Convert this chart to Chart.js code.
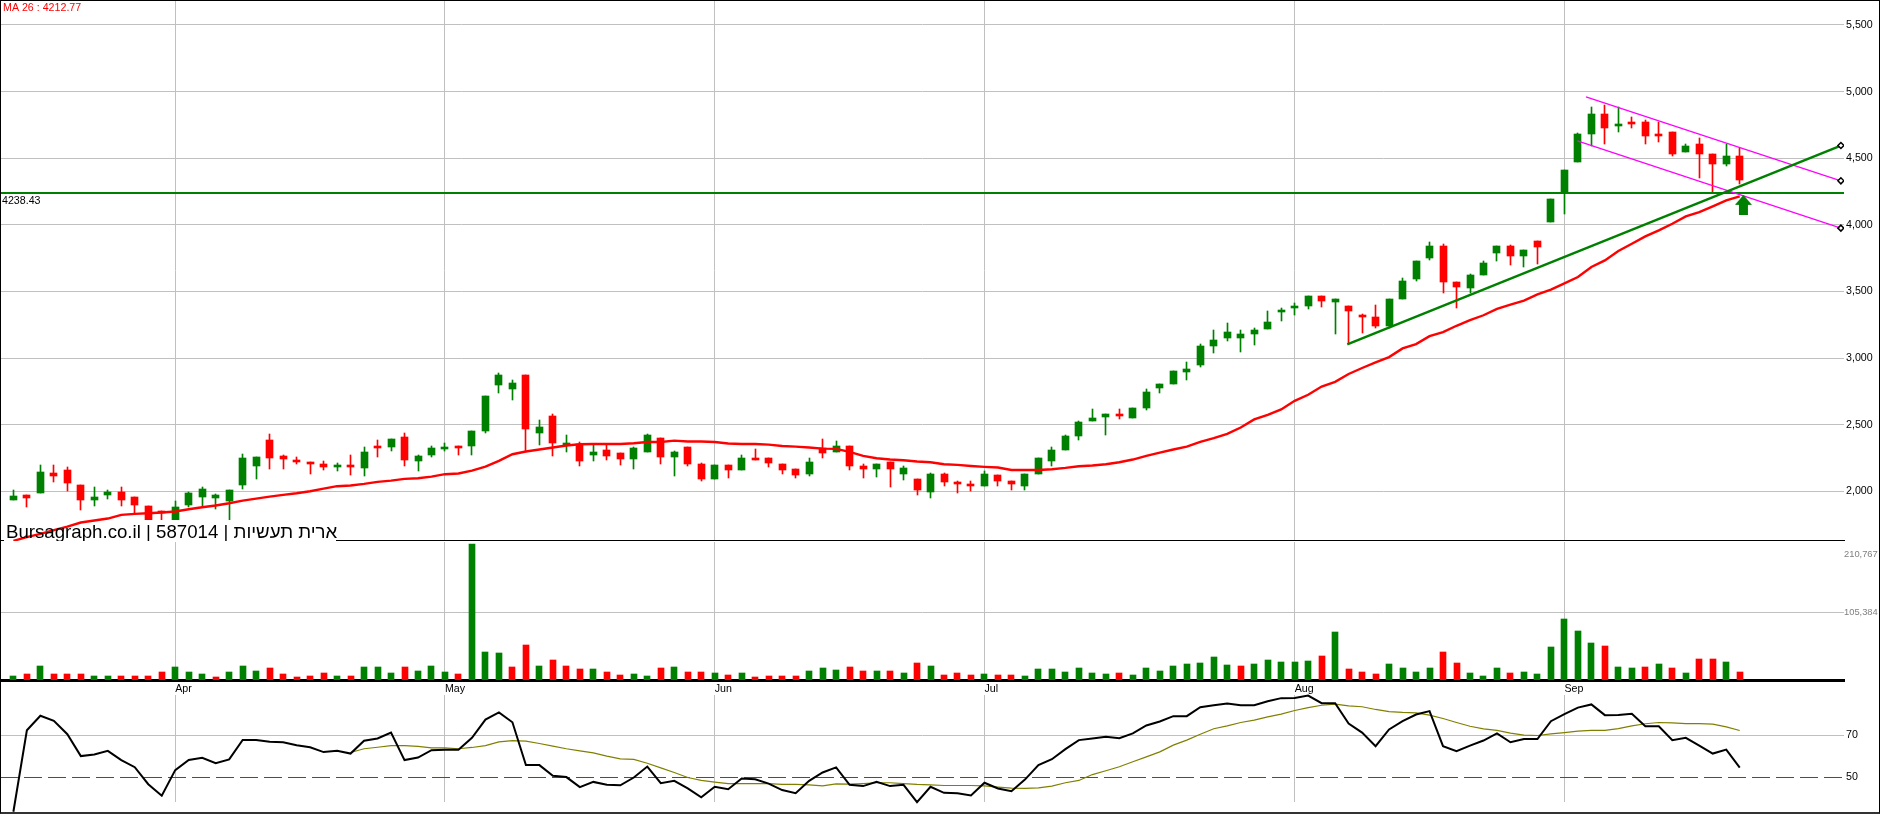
<!DOCTYPE html>
<html>
<head>
<meta charset="utf-8">
<title>Bursagraph 587014</title>
<script src="https://cdn.jsdelivr.net/npm/chart.js@4"></script>
<style>
html, body { margin: 0; padding: 0; background: #fff; overflow: hidden; }
#page { position: relative; width: 1880px; height: 814px; background: #fff; overflow: hidden; }
canvas { position: absolute; left: 0; display: block; }
#frame { position: absolute; left: 0; top: 0; width: 1878px; height: 811px; border: 1px solid #000; border-bottom: 2px solid #333; pointer-events: none; }
</style>
</head>
<body>
<div id="page">
    <canvas id="priceChart" width="1880" height="541" style="top:0"></canvas>
    <canvas id="volumeChart" width="1880" height="142" style="top:541px"></canvas>
    <canvas id="rsiChart" width="1880" height="132" style="top:682px"></canvas>
    <div id="frame"></div>
</div>
<script>
// one entry per trading day
const opens = [1935,1975,1988,2138,2160,2048,1935,1973,1995,1958,1890,1850,1773,1898,1958,1950,1928,2048,2190,2385,2265,2235,2220,2205,2183,2198,2175,2340,2333,2408,2228,2273,2328,2340,2340,2453,2798,2768,2873,2438,2565,2348,2355,2273,2310,2288,2243,2295,2400,2258,2333,2205,2093,2198,2160,2250,2250,2205,2168,2130,2325,2295,2340,2190,2168,2220,2130,2093,1995,2130,2070,2055,2040,2123,2078,2040,2130,2228,2310,2415,2528,2558,2580,2550,2625,2775,2805,2895,2945,3087,3147,3154,3184,3219,3346,3386,3391,3466,3421,3391,3324,3309,3242,3443,3593,3749,3839,3570,3525,3623,3787,3839,3764,3876,4018,4235,4468,4685,4835,4750,4775,4775,4685,4700,4550,4603,4528,4460,4520];
const highs = [2010,1975,2198,2198,2183,2048,2033,2010,2033,1958,1890,1850,1928,1995,2033,1980,2010,2280,2258,2430,2273,2258,2220,2228,2213,2273,2333,2385,2393,2438,2273,2340,2363,2340,2453,2715,2888,2835,2873,2535,2580,2423,2370,2348,2348,2288,2333,2430,2400,2303,2333,2213,2198,2198,2273,2318,2250,2205,2168,2250,2393,2378,2340,2205,2205,2220,2190,2093,2138,2138,2078,2078,2153,2123,2078,2130,2250,2333,2423,2528,2618,2580,2618,2625,2768,2805,2903,2970,3102,3214,3266,3214,3222,3354,3376,3413,3466,3466,3443,3391,3331,3398,3443,3600,3727,3869,3854,3570,3630,3727,3839,3847,3809,3876,4195,4408,4690,4888,4903,4888,4813,4790,4768,4700,4610,4648,4528,4610,4575];
const lows = [1935,1878,1988,2073,2005,1860,1890,1943,1890,1835,1773,1735,1773,1883,1885,1868,1770,2018,2093,2168,2168,2205,2130,2160,2153,2123,2115,2258,2303,2190,2153,2258,2303,2273,2273,2438,2738,2685,2303,2348,2265,2295,2190,2228,2235,2198,2168,2295,2205,2115,2190,2078,2093,2100,2160,2235,2183,2130,2100,2115,2250,2295,2160,2100,2108,2033,2085,1973,1950,2040,1988,2003,2040,2040,2010,2010,2130,2190,2310,2385,2528,2423,2543,2550,2610,2738,2805,2835,2930,3035,3125,3042,3095,3219,3279,3324,3369,3383,3182,3115,3189,3227,3227,3443,3578,3735,3488,3376,3488,3623,3727,3697,3682,3705,4018,4078,4468,4595,4610,4693,4730,4610,4625,4513,4550,4348,4250,4445,4310];
const closes = [1965,1953,2145,2118,2063,1935,1958,1995,1935,1898,1773,1835,1883,1988,2018,1973,2010,2250,2258,2250,2243,2220,2213,2183,2198,2193,2295,2325,2393,2235,2265,2325,2333,2335,2453,2715,2873,2813,2468,2483,2363,2360,2228,2295,2265,2243,2325,2423,2258,2295,2205,2093,2198,2160,2250,2243,2213,2160,2123,2220,2288,2340,2190,2168,2205,2168,2175,2010,2130,2070,2063,2040,2130,2078,2055,2130,2250,2310,2415,2520,2550,2580,2573,2625,2745,2805,2903,2918,3087,3132,3192,3184,3207,3271,3361,3391,3466,3428,3443,3354,3309,3242,3443,3578,3727,3839,3570,3533,3623,3712,3839,3764,3809,3832,4190,4408,4685,4835,4730,4760,4770,4663,4663,4535,4595,4528,4460,4520,4340];

const volumes = [6200,9300,21800,9300,9300,9300,6200,6200,6200,6200,6200,12500,20200,12500,9300,4700,12500,21800,14000,18700,9300,4700,6200,10900,6200,6200,20200,20200,10900,20200,14000,21800,12500,9300,210767,43600,42000,20200,54500,21800,31100,21800,17100,17100,12500,7800,9300,6200,18700,20200,12500,12500,10900,7800,10900,4700,6200,6200,6200,14000,18700,15600,20200,14000,14000,14000,10900,26500,21800,7800,10900,7800,9300,7800,7800,6200,17100,17100,12500,18700,10900,9300,10900,7800,18700,14000,21800,24900,26500,35800,23400,21800,24900,31100,28000,28000,29600,37400,74700,17100,12500,9300,24900,18700,12500,18700,43600,26500,10900,6200,18700,10900,12500,9300,51400,95000,76300,57600,52900,20200,18700,20200,24900,18700,10900,32700,32700,28000,12500];
// 1 = up day, 0 = down day, per volume bar
const volumeUp = [
    1,0,1,0,0,0,1,1,0,0,
    0,0,1,1,1,0,1,1,1,0,
    0,0,0,0,1,0,1,1,1,0,
    1,1,1,0,1,1,1,0,0,1,
    0,0,0,1,0,0,1,1,0,1,
    0,0,1,0,1,0,0,0,0,1,
    1,1,0,0,1,0,1,0,1,0,
    0,0,1,0,0,1,1,1,1,1,
    1,1,0,1,1,1,1,1,1,1,
    1,0,1,1,1,1,1,0,1,0,
    0,0,1,1,1,1,0,0,1,1,
    1,0,1,1,1,1,1,1,0,1,
    1,0,1,0,1,0,0,1,0
];

const maValues = [1628,1655,1680,1708,1735,1765,1780,1795,1823,1830,1835,1840,1848,1865,1880,1893,1910,1930,1945,1960,1973,1985,2000,2020,2038,2043,2055,2070,2080,2093,2098,2110,2128,2133,2155,2185,2228,2278,2298,2313,2328,2343,2353,2355,2355,2355,2360,2370,2370,2380,2373,2373,2370,2358,2355,2355,2350,2340,2335,2328,2320,2318,2295,2265,2248,2238,2233,2223,2218,2203,2198,2190,2183,2178,2160,2160,2160,2165,2175,2188,2193,2203,2218,2238,2265,2290,2313,2335,2370,2398,2430,2478,2539,2574,2614,2679,2724,2786,2821,2880,2925,2968,3007,3072,3105,3164,3194,3242,3284,3321,3369,3401,3431,3478,3513,3560,3608,3683,3733,3803,3858,3913,3958,4008,4063,4095,4138,4183,4213];

const rsiValues = [33.7,72.5,79.4,77.0,70.6,60.2,61.0,62.7,58.3,54.9,46.8,41.3,53.5,58.3,59.4,56.8,58.6,67.9,67.9,67.0,66.8,65.4,64.4,62.1,62.7,61.4,67.5,68.6,71.4,58.3,59.5,63.0,63.2,63.2,68.9,77.6,81.0,76.3,55.9,55.9,50.8,50.2,45.4,47.9,46.5,46.3,50.0,55.2,47.3,48.4,44.8,40.6,45.6,44.4,49.5,49.2,47.1,44.0,42.5,48.4,52.4,54.8,46.5,45.9,47.9,45.9,46.5,38.3,45.6,42.7,42.5,41.4,47.5,44.8,43.5,49.0,55.9,58.7,63.5,67.8,68.6,69.4,68.7,71.0,74.8,76.7,79.2,79.2,83.5,84.4,85.2,84.4,84.4,86.3,87.8,87.9,89.0,85.4,85.4,75.7,71.4,64.9,72.9,76.8,80.0,81.6,64.9,62.5,65.2,67.6,71.0,66.8,68.3,68.3,76.8,80.2,83.3,84.8,79.7,79.8,80.3,74.4,74.4,67.8,68.9,65.2,61.4,63.3,54.7];
const signalStart = 25;
const signalValues = [61.9,63.7,64.4,65.2,65.2,64.8,64.1,64.1,63.7,64.3,65.2,67.0,67.6,67.3,66.2,64.9,63.7,62.7,61.7,60.2,58.9,58.6,56.8,54.6,52.4,50.0,48.6,47.8,47.1,47.1,47.1,47.1,46.7,46.7,46.5,46.0,47.0,46.8,47.1,47.5,47.5,47.1,46.7,46.5,46.2,46.2,46.2,46.0,45.4,44.9,44.8,45.1,45.9,47.5,48.6,51.4,53.2,55.1,57.5,59.8,62.2,65.4,67.8,70.6,73.2,74.6,76.2,77.3,78.9,80.2,81.9,83.3,84.4,84.9,84.1,83.7,82.4,81.4,81.0,80.8,79.7,78.1,76.2,74.4,73.2,72.4,71.1,70.2,70.0,70.8,71.4,72.1,72.4,72.4,73.3,74.6,75.6,76.2,76.0,75.7,75.7,75.4,74.1,72.4];
const rsiLevel = 50;

const priceLevel = 4238.43;
const greenTrendX = [98.9, 135.5];
const greenTrendY = [3102, 4595];
const upperChannelX = [116.6, 135.5];
const upperChannelY = [4960, 4330];
const lowerChannelX = [115.96, 135.5];
const lowerChannelY = [4630, 3975];
const arrowX = [128.27];
const arrowY = [4150];

const monthTicks = [12, 32, 52, 72, 95, 115];
const monthLabels = ["Apr", "May", "Jun", "Jul", "Aug", "Sep"];
const priceTicks = [2000, 2500, 3000, 3500, 4000, 4500, 5000, 5500];
const volumeTicks = [105384];
const volumeTopLabel = 210767;
const rsiTicks = [50, 70];

const GREEN = "#008000";
const RED = "#ff0000";
const GRID = "#c0c0c0";
const X_MIN = -0.919;
const X_MAX = 135.73;
const FONT = '"Liberation Sans", Arial, sans-serif';

Chart.defaults.font.family = FONT;
Chart.defaults.font.size = 10.67;
Chart.defaults.color = "#000";

const days = opens.map((_, i) => i);
const candleColors = days.map(i => closes[i] >= opens[i] ? GREEN : RED);

function noPadding(scale) {
    scale.paddingTop = 0;
    scale.paddingBottom = 0;
    scale.paddingLeft = 0;
    scale.paddingRight = 0;
}

function xAxis(extra) {
    return Object.assign({
        type: "linear",
        min: X_MIN,
        max: X_MAX,
        offset: false,
        grid: { color: GRID, drawTicks: false, offset: false },
        border: { display: false },
        ticks: { display: false },
        afterBuildTicks: scale => { scale.ticks = monthTicks.map(value => ({ value })); },
        afterFit: scale => { scale.height = 0; noPadding(scale); }
    }, extra);
}

function yAxis(ticks, min, max, extra) {
    return Object.assign({
        type: "linear",
        position: "right",
        min,
        max,
        grid: { color: GRID, drawTicks: false },
        border: { display: false },
        ticks: { padding: 2, autoSkip: false, callback: v => v.toLocaleString("en-US") },
        afterBuildTicks: scale => { scale.ticks = ticks.map(value => ({ value })); },
        afterFit: scale => { scale.width = 36; noPadding(scale); }
    }, extra);
}

function pair(xs, ys) {
    return xs.map((x, i) => ({ x, y: ys[i] }));
}

function baseOptions(padding, scales) {
    return {
        responsive: false,
        animation: false,
        devicePixelRatio: 1,
        events: [],
        layout: { padding, autoPadding: false },
        plugins: { legend: { display: false }, title: { display: false }, tooltip: { enabled: false } },
        elements: { point: { radius: 0 } },
        scales
    };
}

// the bars land on whole pixels, so wicks stay 1px wide
const snapBars = {
    id: "snapBars",
    afterDatasetsUpdate(chart) {
        chart.getSortedVisibleDatasetMetas().forEach(meta => {
            if (meta.type !== "bar") return;
            meta.data.forEach(el => {
                el.x = Math.round(el.width) % 2 ? Math.floor(el.x) + 0.5 : Math.round(el.x);
                el.y = Math.round(el.y);
                el.base = Math.round(el.base);
                if (Math.abs(el.y - el.base) < 2 && el.width > 1) el.base = el.y + 2;
            });
        });
    }
};

function drawArrow() {
    const c = document.createElement("canvas");
    c.width = 17;
    c.height = 20;
    const g = c.getContext("2d");
    g.fillStyle = GREEN;
    g.beginPath();
    g.moveTo(8.5, 0);
    g.lineTo(17, 10);
    g.lineTo(13, 10);
    g.lineTo(13, 20);
    g.lineTo(4, 20);
    g.lineTo(4, 10);
    g.lineTo(0, 10);
    g.closePath();
    g.fill();
    return c;
}

const BODY_INDEX = 0;

const priceText = {
    id: "priceText",
    afterDatasetDraw(chart, args) {
        // the caption sits on a white box that hides the candles, not the average
        if (args.index !== BODY_INDEX) return;
        const ctx = chart.ctx;
        ctx.save();
        ctx.fillStyle = "#fff";
        ctx.fillRect(4, 520, 332, 21);
        ctx.restore();
    },
    afterDraw(chart) {
        const ctx = chart.ctx;
        ctx.save();
        ctx.textBaseline = "alphabetic";
        ctx.font = "10.67px " + FONT;
        ctx.fillStyle = RED;
        ctx.fillText("MA 26 : 4212.77", 3, 11);
        ctx.fillStyle = "#000";
        ctx.fillText(priceLevel.toFixed(2), 2, 204);
        ctx.font = "18.67px " + FONT;
        ctx.fillText("Bursagraph.co.il | 587014 | ארית תעשיות", 6, 538);
        ctx.restore();
    }
};

new Chart(document.getElementById("priceChart"), {
    type: "bar",
    data: {
        datasets: [
            { label: "body", data: days.map(i => ({ x: i, y: [opens[i], closes[i]] })), backgroundColor: candleColors, barThickness: 7, grouped: false, order: 6 },
            { label: "wick", data: days.map(i => ({ x: i, y: [lows[i], highs[i]] })), backgroundColor: candleColors, barThickness: 1, grouped: false, order: 7 },
            { type: "line", label: "level", data: pair([X_MIN, X_MAX], [priceLevel, priceLevel]), borderColor: GREEN, borderWidth: 2, order: 5 },
            { type: "line", label: "MA 26", data: pair(days, maValues), borderColor: RED, borderWidth: 2.4, clip: false, order: 4 },
            { type: "line", label: "upper", data: pair(upperChannelX, upperChannelY), borderColor: "#ff00ff", borderWidth: 1.2, pointRadius: [0, 3], pointStyle: "rectRot", pointBackgroundColor: "#fff", pointBorderColor: "#000", pointBorderWidth: 1.5, order: 3 },
            { type: "line", label: "lower", data: pair(lowerChannelX, lowerChannelY), borderColor: "#ff00ff", borderWidth: 1.2, pointRadius: [0, 3], pointStyle: "rectRot", pointBackgroundColor: "#fff", pointBorderColor: "#000", pointBorderWidth: 1.5, order: 2 },
            { type: "line", label: "trend", data: pair(greenTrendX, greenTrendY), borderColor: GREEN, borderWidth: 2.4, pointRadius: [0, 3], pointStyle: "rectRot", pointBackgroundColor: "#fff", pointBorderColor: "#000", pointBorderWidth: 1.5, order: 1 },
            { type: "line", label: "arrow", data: pair(arrowX, arrowY), showLine: false, pointRadius: 10, pointStyle: drawArrow(), order: 0 }
        ]
    },
    options: baseOptions({ left: 1, top: 1, bottom: 1 }, {
        x: xAxis({ border: { display: true, color: "#000", width: 1 } }),
        y: yAxis(priceTicks, 1634, 5680)
    }),
    plugins: [snapBars, priceText]
});

const volumeText = {
    id: "volumeText",
    afterDraw(chart) {
        const ctx = chart.ctx;
        ctx.save();
        ctx.font = "9.33px " + FONT;
        ctx.fillStyle = "#808080";
        ctx.textBaseline = "middle";
        ctx.fillText(volumeTopLabel.toLocaleString("en-US"), 1844, chart.scales.y.getPixelForValue(volumeTopLabel) + 10);
        ctx.restore();
    }
};

new Chart(document.getElementById("volumeChart"), {
    type: "bar",
    data: {
        datasets: [{
            label: "volume",
            data: pair(days, volumes),
            backgroundColor: days.map(i => volumeUp[i] ? GREEN : RED),
            barThickness: 6,
            grouped: false
        }]
    },
    options: baseOptions({ left: 1, top: 1, bottom: 3 }, {
        x: xAxis({ border: { display: true, color: "#000", width: 3 } }),
        y: yAxis(volumeTicks, 0, 213870, { ticks: { padding: 0, color: "#808080", font: { size: 9.33 }, autoSkip: false, callback: v => v.toLocaleString("en-US") } })
    }),
    plugins: [snapBars, volumeText]
});

const rsiText = {
    id: "rsiText",
    afterDraw(chart) {
        const ctx = chart.ctx;
        ctx.save();
        ctx.font = "10.67px " + FONT;
        ctx.fillStyle = "#000";
        ctx.textBaseline = "middle";
        ctx.fillText("Sm.RSI 13/13 = 54.7", 3, 18);
        ctx.restore();
    }
};

new Chart(document.getElementById("rsiChart"), {
    type: "line",
    data: {
        datasets: [
            { label: "RSI", data: pair(days, rsiValues), borderColor: "#000", borderWidth: 2, clip: false, order: 0 },
            { label: "signal", data: signalValues.map((y, i) => ({ x: signalStart + i, y })), borderColor: "#808000", borderWidth: 1.2, order: 1 },
            { label: "level", data: pair([X_MIN, X_MAX], [rsiLevel, rsiLevel]), borderColor: RED, borderWidth: 1, borderDash: [18, 6], borderDashOffset: 1, order: 2 }
        ]
    },
    options: baseOptions({ left: 1, bottom: 12 }, {
        x: xAxis({
            position: "top",
            ticks: { display: true, align: "start", padding: 0, autoSkip: false, maxRotation: 0, color: "#000", callback: (v, i) => monthLabels[i] },
            afterFit: scale => { scale.height = 13; noPadding(scale); }
        }),
        y: yAxis(rsiTicks, 38.33, 89.29, {
            grid: { drawTicks: false, color: c => c.tick.value === rsiLevel ? "transparent" : GRID }
        })
    })
});
</script>
</body>
</html>
